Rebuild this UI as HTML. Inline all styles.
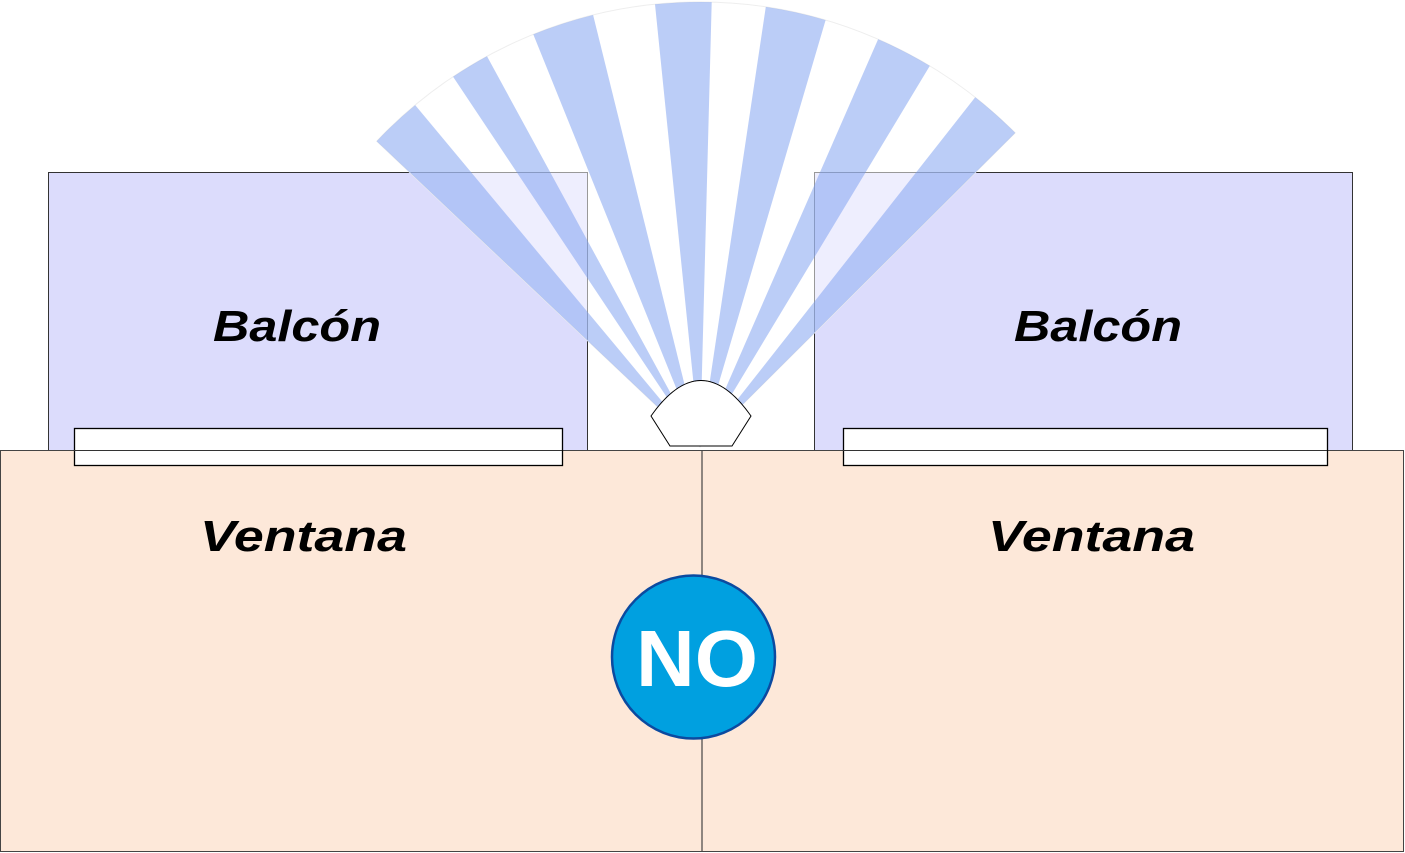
<!DOCTYPE html>
<html><head><meta charset="utf-8"><style>
html,body{margin:0;padding:0;background:#fff;}
svg{display:block;}
text{font-family:"Liberation Sans",sans-serif;font-weight:bold;}
</style></head><body>
<svg width="1405" height="853" viewBox="0 0 1405 853" xmlns="http://www.w3.org/2000/svg">
<rect x="48.5" y="172.5" width="539" height="278" fill="#dcdcfc" stroke="#333" stroke-width="1"/>
<rect x="814.5" y="172.5" width="538" height="278" fill="#dcdcfc" stroke="#333" stroke-width="1"/>
<text x="213" y="341" font-size="44" font-style="italic" textLength="168" lengthAdjust="spacingAndGlyphs">Balcón</text>
<text x="1014" y="341" font-size="44" font-style="italic" textLength="168" lengthAdjust="spacingAndGlyphs">Balcón</text>
<g>
<path d="M700 447 L376.7 141.2 A445 445 0 0 1 1015.2 132.9 Z" fill="#fff" fill-opacity="0.5" stroke="#eee" stroke-width="1"/>
<g fill="rgb(120,155,240)" fill-opacity="0.5">
<path d="M700 447 L376.7 141.2 A445 445 0 0 1 415.2 105.1 Z"/>
<path d="M700 447 L453.1 76.8 A445 445 0 0 1 487.0 56.3 Z"/>
<path d="M700 447 L533.3 34.4 A445 445 0 0 1 593.1 15.0 Z"/>
<path d="M700 447 L655.0 4.3 A445 445 0 0 1 711.7 2.1 Z"/>
<path d="M700 447 L765.8 6.9 A445 445 0 0 1 825.6 20.1 Z"/>
<path d="M700 447 L878.1 39.2 A445 445 0 0 1 929.8 65.9 Z"/>
<path d="M700 447 L975.2 97.3 A445 445 0 0 1 1015.2 132.9 Z"/>
</g>
</g>
<rect x="0.5" y="450.5" width="1403" height="401" fill="#fde8d9" stroke="#444" stroke-width="1"/>
<line x1="702" y1="450" x2="702" y2="852" stroke="#444" stroke-width="1.2"/>
<rect x="74.5" y="428.5" width="488" height="37" fill="#fff" stroke="#000" stroke-width="1.3"/>
<line x1="74" y1="450.5" x2="562" y2="450.5" stroke="#333"/>
<rect x="843.5" y="428.5" width="484" height="37" fill="#fff" stroke="#000" stroke-width="1.3"/>
<line x1="843" y1="450.5" x2="1327" y2="450.5" stroke="#333"/>
<path d="M651 416 Q701 345 751 416 L732 446 L670 446 Z" fill="#fff" stroke="#000" stroke-width="1"/>
<text x="200" y="551" font-size="44" font-style="italic" textLength="207" lengthAdjust="spacingAndGlyphs">Ventana</text>
<text x="988" y="551" font-size="44" font-style="italic" textLength="207" lengthAdjust="spacingAndGlyphs">Ventana</text>
<circle cx="693.5" cy="657" r="81.5" fill="#00a0e0" stroke="#0b4aa0" stroke-width="2.5"/>
<text x="636" y="686" font-size="80" fill="#fff" textLength="122" lengthAdjust="spacingAndGlyphs">NO</text>
</svg>
</body></html>
